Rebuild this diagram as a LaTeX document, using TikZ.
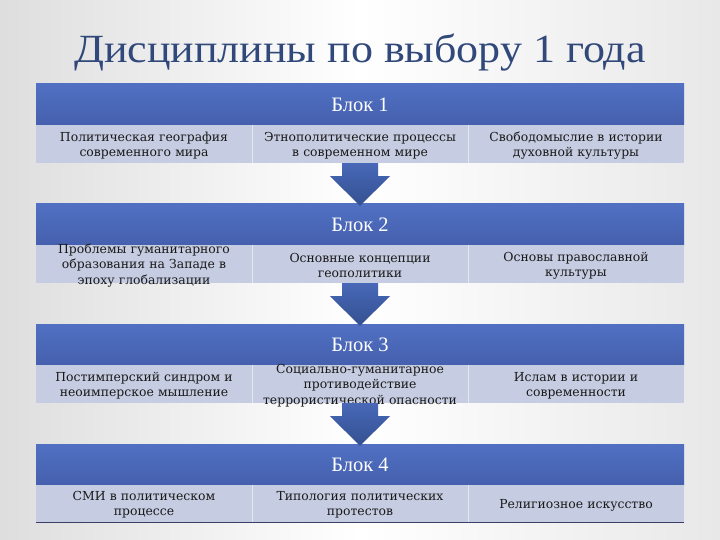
\documentclass[tikz,border=0pt]{standalone}
\usepackage{fontspec}
\setmainfont{Liberation Serif}
\newfontfamily\rowfont{DejaVu Serif}
\usetikzlibrary{calc}
\definecolor{hdr}{HTML}{5170C2}
\definecolor{hdrdark}{HTML}{4560AE}
\definecolor{rowc}{HTML}{C6CCE1}
\definecolor{titlec}{HTML}{31487A}
\definecolor{arrowtop}{HTML}{4868B8}
\definecolor{arrowbot}{HTML}{33508F}
\definecolor{bottomline}{HTML}{3A3F66}
\definecolor{rowtext}{HTML}{1A1A1A}
\newcommand\blkarrow[2]{%
  \shade[top color=arrowtop,bottom color=arrowbot]
    ($(#1.south)+(-18,0)$) -- ($(#1.south)+(18,0)$) -- ($(#1.south)+(18,13)$) --
    ($(#1.south)+(30,13)$) -- ($(#2.north)+(0,2)$) -- ($(#1.south)+(-30,13)$) --
    ($(#1.south)+(-18,13)$) -- cycle;}
\newcommand\colsep[1]{%
  \draw[white,opacity=0.55,line width=0.8pt] (#1.north east) -- (#1.south east);}
\begin{document}
\begin{tikzpicture}[x=1pt,y=-1pt,
  hdrbox/.style={minimum width=648pt,minimum height=41pt,inner sep=0pt,
    top color=hdr,bottom color=hdrdark,text=white,
    font=\fontsize{20.5}{22}\selectfont},
  cell/.style={minimum width=216pt,minimum height=38pt,inner sep=0pt,
    fill=rowc},
  celltext/.style={align=center,text width=212pt,text=rowtext,inner sep=0pt,
    yshift=-1.5pt,font=\rowfont\fontsize{12.4}{15.3}\selectfont},
  titlenode/.style={text=titlec,font=\fontsize{40}{44}\selectfont,anchor=base}]
\useasboundingbox (0,0) rectangle (720,540);
\shade[left color=black!13,right color=black!9,middle color=white] (0,0) rectangle (720,540);
\node[titlenode] (title) at (360,63) {\scalebox{1.1}[1]{Дисциплины по выбору 1 года}};
% Block 1
\node[hdrbox] (h1) at (360,104.5) {Блок 1};
\node[cell,label={[celltext]center:{Политическая география\\современного мира}}] (r1a) at (144,144) {};
\node[cell,label={[celltext]center:{Этнополитические процессы\\в современном мире}}] (r1b) at (360,144) {};
\node[cell,label={[celltext]center:{Свободомыслие в истории\\духовной культуры}}] (r1c) at (576,144) {};
% Block 2
\node[hdrbox] (h2) at (360,224.5) {Блок 2};
\node[cell,label={[celltext]center:{Проблемы гуманитарного\\образования на Западе в\\эпоху глобализации}}] (r2a) at (144,264) {};
\node[cell,label={[celltext]center:{Основные концепции\\геополитики}}] (r2b) at (360,264) {};
\node[cell,label={[celltext]center:{Основы православной\\культуры}}] (r2c) at (576,264) {};
% Block 3
\node[hdrbox] (h3) at (360,344.5) {Блок 3};
\node[cell,label={[celltext]center:{Постимперский синдром и\\неоимперское мышление}}] (r3a) at (144,384) {};
\node[cell,label={[celltext]center:{Социально-гуманитарное\\противодействие\\террористической опасности}}] (r3b) at (360,384) {};
\node[cell,label={[celltext]center:{Ислам в истории и\\современности}}] (r3c) at (576,384) {};
% Block 4
\node[hdrbox] (h4) at (360,464.5) {Блок 4};
\node[cell,minimum height=37pt,label={[celltext]center:{СМИ в политическом\\процессе}}] (r4a) at (144,503.5) {};
\node[cell,minimum height=37pt,label={[celltext]center:{Типология политических\\протестов}}] (r4b) at (360,503.5) {};
\node[cell,minimum height=37pt,label={[celltext]center:{Религиозное искусство}}] (r4c) at (576,503.5) {};
\draw[bottomline,line width=1pt] (r4a.south west) -- (r4c.south east);
% separators
\foreach \c in {r1a,r1b,r2a,r2b,r3a,r3b,r4a,r4b} {\colsep{\c}}
% arrows
\blkarrow{r1b}{h2}
\blkarrow{r2b}{h3}
\blkarrow{r3b}{h4}
\end{tikzpicture}
\end{document}
